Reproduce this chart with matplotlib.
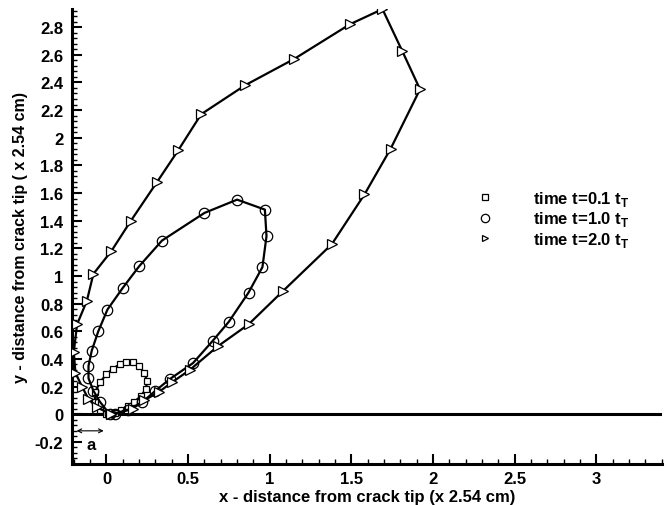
import matplotlib
matplotlib.use("Agg")
import matplotlib.pyplot as plt
from matplotlib.ticker import MultipleLocator
from matplotlib.lines import Line2D

plt.rcParams['font.family'] = ['Liberation Sans', 'DejaVu Sans']
plt.rcParams['mathtext.fontset'] = 'custom'
plt.rcParams['mathtext.bf'] = 'Liberation Sans:bold'
plt.rcParams['mathtext.rm'] = 'Liberation Sans:bold'

# t = 0.1 tT  (small loop near the tip)
sq_x = [0.00, -0.04, -0.07, -0.07, -0.04, 0.00, 0.04, 0.08, 0.12, 0.16, 0.20, 0.23, 0.25, 0.24, 0.21, 0.17, 0.13, 0.09, 0.05, 0.02]
sq_y = [0.00, 0.03, 0.09, 0.16, 0.23, 0.29, 0.33, 0.36, 0.375, 0.375, 0.35, 0.30, 0.24, 0.18, 0.13, 0.09, 0.06, 0.03, 0.01, 0.00]

# t = 1.0 tT
cir_x = [0.02, -0.04, -0.08, -0.11, -0.11, -0.09, -0.05, 0.006, 0.10, 0.20, 0.34, 0.60, 0.80, 0.97, 0.98, 0.955, 0.87, 0.75, 0.65, 0.53, 0.39, 0.30, 0.22, 0.13, 0.05]
cir_y = [0.00, 0.09, 0.17, 0.26, 0.35, 0.46, 0.60, 0.757, 0.914, 1.07, 1.256, 1.456, 1.552, 1.48, 1.288, 1.064, 0.88, 0.67, 0.53, 0.37, 0.256, 0.17, 0.088, 0.03, 0.00]

# t = 2.0 tT
tri_x = [0.03, 0.16, 0.23, 0.32, 0.40, 0.51, 0.68, 0.87, 1.08, 1.38, 1.58, 1.74, 1.92, 1.81, 1.69, 1.49, 1.15, 0.85, 0.58, 0.44, 0.31, 0.15, 0.03, -0.08, -0.12, -0.18, -0.20, -0.19, -0.15, -0.11, -0.06, 0.03]
tri_y = [0.00, 0.04, 0.10, 0.16, 0.23, 0.32, 0.49, 0.65, 0.89, 1.23, 1.59, 1.92, 2.35, 2.63, 2.93, 2.82, 2.57, 2.38, 2.17, 1.91, 1.68, 1.40, 1.18, 1.015, 0.82, 0.65, 0.45, 0.30, 0.20, 0.11, 0.05, 0.00]

labels = [r'time t=0.1 t$_\mathbf{T}$', r'time t=1.0 t$_\mathbf{T}$', r'time t=2.0 t$_\mathbf{T}$']
crack_len = 0.2

fig = plt.figure(figsize=(6.68, 5.06), dpi=100)
ax = fig.add_axes([0.1073, 0.081, 0.8833, 0.899])

ax.axhline(0, color='black', lw=2.2, zorder=1)

ax.plot(sq_x, sq_y, '-', color='black', lw=1.6, marker='s', ms=5, mfc='white', mec='black', mew=0.9, zorder=3)
ax.plot(cir_x, cir_y, '-', color='black', lw=1.6, marker='o', ms=7.5, mfc='none', mec='black', mew=0.9, zorder=3)
ax.plot(tri_x, tri_y, '-', color='black', lw=1.6, marker='>', ms=6.5, mfc='white', mec='black', mew=0.9, zorder=3)

# crack length arrow
ax.annotate('', xy=(-crack_len, -0.12), xytext=(0, -0.12),
            arrowprops=dict(arrowstyle='<->', color='black', lw=0.8, mutation_scale=7))
ax.text(-0.12, -0.22, 'a', fontsize=12, fontweight='bold', va='center', ha='left')

ax.set_xlim(-0.213, 3.40)
ax.set_ylim(-0.36, 2.93)
ax.xaxis.set_major_locator(MultipleLocator(0.5))
ax.xaxis.set_minor_locator(MultipleLocator(0.1))
ax.yaxis.set_major_locator(MultipleLocator(0.2))
ax.yaxis.set_minor_locator(MultipleLocator(0.04))
ax.xaxis.set_major_formatter(plt.FuncFormatter(lambda v, p: ('%g' % v)))
ax.yaxis.set_major_formatter(plt.FuncFormatter(lambda v, p: ('%g' % round(v, 2))))

for s in ['top', 'right']:
    ax.spines[s].set_visible(False)
for s in ['left', 'bottom']:
    ax.spines[s].set_linewidth(2.2)

ax.tick_params(which='major', direction='in', length=7, width=1.5, labelsize=12, pad=5)
ax.tick_params(which='minor', direction='in', length=3.5, width=1.0)
ax.tick_params(axis='y', which='major', pad=6)
for t in ax.get_xticklabels() + ax.get_yticklabels():
    t.set_fontweight('bold')

ax.set_xlabel('x - distance from crack tip (x 2.54 cm)', fontsize=12, fontweight='bold')
ax.set_ylabel('y - distance from crack tip ( x 2.54 cm)', fontsize=11.5, fontweight='bold')
ax.xaxis.set_label_coords(0.5, -0.055)
ax.yaxis.set_label_coords(-0.074, 0.5)

handles = [
    Line2D([], [], ls='none', marker='s', ms=4, mfc='white', mec='black', mew=0.9),
    Line2D([], [], ls='none', marker='o', ms=6, mfc='white', mec='black', mew=0.9),
    Line2D([], [], ls='none', marker='>', ms=5, mfc='white', mec='black', mew=0.9),
]
leg = fig.legend(handles, labels, loc='center left', bbox_to_anchor=(476.7 / 668, 1 - 220 / 506),
                 frameon=False, handlelength=1.0, handletextpad=2.36, labelspacing=0.1,
                 borderpad=0, borderaxespad=0, numpoints=1,
                 prop={'size': 12, 'weight': 'bold'})

fig.savefig('out.png', dpi=100)
